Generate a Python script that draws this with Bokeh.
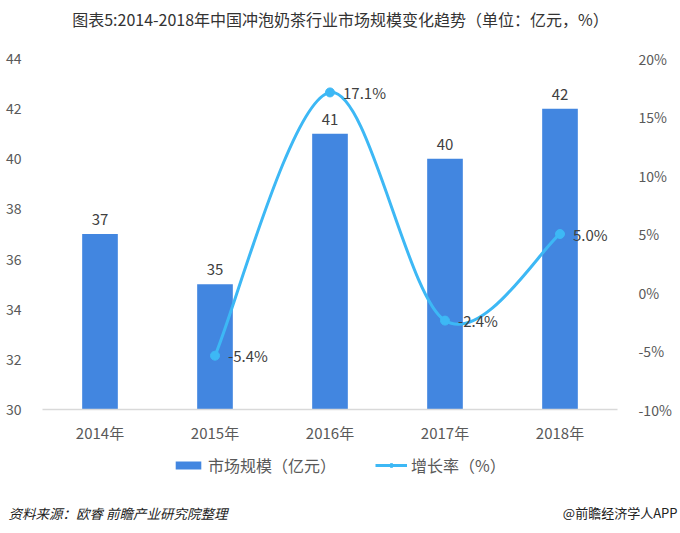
import numpy as np
from bokeh.plotting import figure
from bokeh.layouts import column
from bokeh.models import (Range1d, LinearAxis, FixedTicker, PrintfTickFormatter,
                          Legend, LegendItem, ColumnDataSource)
from bokeh.core.properties import value
from bokeh.embed import file_html
from bokeh.resources import INLINE

# ---------------- data ----------------
years = ["2014年", "2015年", "2016年", "2017年", "2018年"]
market_size = [37, 35, 41, 40, 42]          # 亿元
growth_years_idx = [1, 2, 3, 4]              # 2015-2018
growth_rate = [-5.4, 17.1, -2.4, 5.0]        # %
growth_labels = ["-5.4%", "17.1%", "-2.4%", "5.0%"]
left_ticks = [30, 32, 34, 36, 38, 40, 42, 44]
right_ticks = [-10, -5, 0, 5, 10, 15, 20]
series_names = ["市场规模（亿元）", "增长率（%）"]

title_text = "图表5:2014-2018年中国冲泡奶茶行业市场规模变化趋势（单位：亿元，%）"
source_text = "资料来源：欧睿 前瞻产业研究院整理"
brand_text = "@前瞻经济学人APP"

FONT = "Noto Sans CJK SC"
BAR_COLOR = "#4286E0"
LINE_COLOR = "#3DB8F5"
AX_TEXT = "#595959"

W = 680
HEAD_H, MAIN_H, FOOT_H = 40, 410, 83


def blank_fig(h):
    f = figure(width=W, height=h, output_backend="svg", toolbar_location=None,
               x_range=Range1d(0, W), y_range=Range1d(0, h),
               min_border=0, outline_line_color=None, frame_align=False)
    f.axis.visible = False
    f.grid.visible = False
    return f


# header with title
head = blank_fig(HEAD_H)
head.text(x=[340], y=[HEAD_H - 18], text=[title_text], text_align="center",
          text_baseline="middle", text_font=value(FONT), text_font_size="16px",
          text_color="#333333")

# main chart
p = figure(width=W, height=MAIN_H, output_backend="svg", toolbar_location=None,
           x_range=Range1d(-0.5, 4.5), y_range=Range1d(30, 44),
           min_border_left=42, min_border_right=63, min_border_top=18,
           min_border_bottom=41, outline_line_color=None, frame_align=False)
p.extra_y_ranges = {"right": Range1d(-10, 20)}
p.xgrid.visible = False
p.ygrid.visible = False

xs = list(range(len(years)))

bar_src = ColumnDataSource(dict(x=xs, top=market_size, lab=[str(v) for v in market_size]))
p.vbar(x="x", top="top", bottom=30, width=0.31, source=bar_src,
       fill_color=BAR_COLOR, line_color=None)
p.text(x="x", y="top", text="lab", source=bar_src, text_align="center",
       text_baseline="bottom", y_offset=-9, text_font=value(FONT),
       text_font_size="15px", text_color="#404040")

# smooth growth line (Catmull-Rom -> cubic Bezier from the data points)
gx = np.array(growth_years_idx, dtype=float)
gy = np.array(growth_rate, dtype=float)
px = np.concatenate([[gx[0]], gx, [gx[-1]]])
py = np.concatenate([[gy[0]], gy, [gy[-1]]])
x0, y0 = gx[:-1], gy[:-1]
x1, y1 = gx[1:], gy[1:]
cx0 = px[1:-2] + (px[2:-1] - px[0:-3]) / 6.0
cy0 = py[1:-2] + (py[2:-1] - py[0:-3]) / 6.0
cx1 = px[2:-1] - (px[3:] - px[1:-2]) / 6.0
cy1 = py[2:-1] - (py[3:] - py[1:-2]) / 6.0
p.bezier(x0=x0, y0=y0, x1=x1, y1=y1, cx0=cx0, cy0=cy0, cx1=cx1, cy1=cy1,
         line_color=LINE_COLOR, line_width=3, y_range_name="right")
p.scatter(x=growth_years_idx, y=growth_rate, size=9, fill_color=LINE_COLOR,
          line_color=LINE_COLOR, y_range_name="right")
p.text(x=growth_years_idx, y=growth_rate, text=growth_labels, y_range_name="right",
       x_offset=13, text_baseline="middle", text_align="left",
       text_font=value(FONT), text_font_size="15px", text_color="#404040")

p.xaxis.ticker = FixedTicker(ticks=xs)
p.xaxis.major_label_overrides = {i: y for i, y in enumerate(years)}
p.xaxis.axis_line_color = "#D9D9D9"
p.xaxis.axis_line_width = 1.5
p.xaxis.major_tick_line_color = None
p.xaxis.minor_tick_line_color = None
p.xaxis.major_label_standoff = 6
p.xaxis.major_label_text_font = FONT
p.xaxis.major_label_text_font_size = "15px"
p.xaxis.major_label_text_color = AX_TEXT

p.yaxis.ticker = FixedTicker(ticks=left_ticks)
p.yaxis.axis_line_color = None
p.yaxis.major_tick_line_color = None
p.yaxis.minor_tick_line_color = None
p.yaxis.major_label_standoff = 15
p.yaxis.major_label_text_font = FONT
p.yaxis.major_label_text_font_size = "14px"
p.yaxis.major_label_text_color = AX_TEXT

ry = LinearAxis(y_range_name="right", ticker=FixedTicker(ticks=right_ticks),
                formatter=PrintfTickFormatter(format="%d%%"))
ry.axis_line_color = None
ry.major_tick_line_color = None
ry.minor_tick_line_color = None
ry.major_label_standoff = 15
ry.major_label_text_font = FONT
ry.major_label_text_font_size = "14px"
ry.major_label_text_color = AX_TEXT
p.add_layout(ry, "right")

# footer with legend and source (legend proxies hold NaN so they draw nothing)
foot = blank_fig(FOOT_H)
nan = [float("nan")]
leg_bar = foot.vbar(x=nan, top=nan, width=1, fill_color=BAR_COLOR, line_color=None)
leg_line = foot.line(x=nan, y=nan, line_color=LINE_COLOR, line_width=3)
leg_pt = foot.scatter(x=nan, y=nan, size=8, fill_color=LINE_COLOR, line_color=LINE_COLOR)
legend = Legend(items=[LegendItem(label=series_names[0], renderers=[leg_bar]),
                       LegendItem(label=series_names[1], renderers=[leg_line, leg_pt])],
                orientation="horizontal", location=(172, 56), padding=0, margin=0,
                spacing=39, glyph_width=32, glyph_height=10, label_standoff=4,
                label_text_font=FONT, label_text_font_size="16px",
                label_text_color=AX_TEXT, background_fill_alpha=0,
                border_line_alpha=0, label_height=20)
foot.add_layout(legend, "center")
foot.text(x=[8], y=[21], text=[source_text], text_align="left",
          text_baseline="middle", text_font=value(FONT), text_font_style="italic",
          text_font_size="13.5px", text_color="#222222")
foot.text(x=[677], y=[21], text=[brand_text], text_align="right",
          text_baseline="middle", text_font=value(FONT),
          text_font_size="13px", text_color="#222222")

layout = column(head, p, foot, spacing=0)
open("out.html", "w").write(file_html(layout, INLINE))
